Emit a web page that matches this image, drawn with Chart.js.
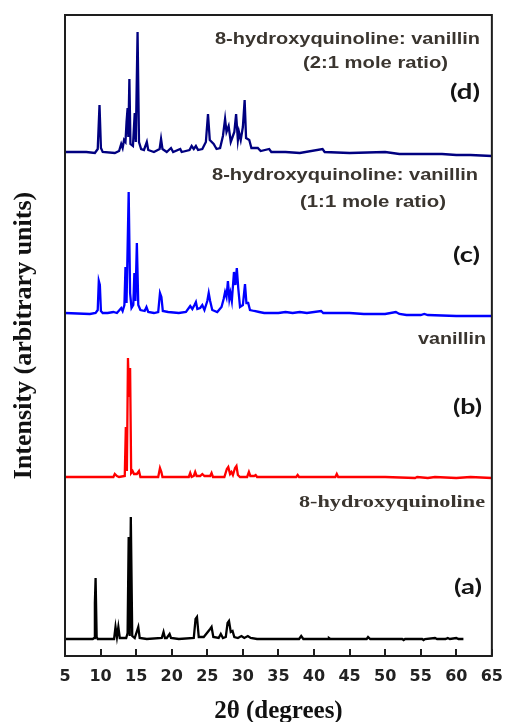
<!DOCTYPE html>
<html>
<head>
<meta charset="utf-8">
<script src="https://cdn.jsdelivr.net/npm/chart.js@4"></script>
<style>
  html, body { margin: 0; padding: 0; background: #fff; }
  #wrap { width: 514px; height: 722px; }
</style>
</head>
<body>
<div id="wrap"><canvas id="xrd" width="514" height="722"></canvas></div>
<script>
// 2theta (deg), intensity above each pattern's own baseline (a.u.)
const pointsA = [[5,0],[8.9,0],[9.1,1],[9.2,36],[9.3,61],[9.45,2],[9.6,0],[11.9,0],[12.1,12],[12.3,2],[12.5,12],[12.7,1],[13.6,1],[13.8,6],[13.95,102],[14.1,3],[14.25,122],[14.45,3],[14.8,1],[15.3,12],[15.5,1],[16.5,0],[18.6,1],[18.85,7],[19.05,1],[19.3,1],[19.7,5],[19.9,1],[21,0],[23.1,1],[23.35,20],[23.55,22],[23.8,2],[24.5,2],[25.4,10],[25.6,12],[25.85,2],[26.6,1],[26.9,5],[27.2,1],[27.6,2],[27.85,16],[28.05,18],[28.3,7],[28.55,8],[28.8,2],[29.3,1],[29.8,3],[30.2,1],[30.7,3],[31.1,1],[32,0],[37.9,0],[38.2,3],[38.5,0],[42,0],[42.1,1],[42.3,0],[47.4,0],[47.6,2],[47.9,0],[52.4,0],[52.6,-1],[52.8,0],[55.2,0],[55.4,-1],[55.6,0],[57,1],[57.3,0],[58.5,0],[58.8,1],[59.1,0],[60,1],[60.3,0],[61,0]];
const pointsB = [[5,0],[11.8,0],[12.0,3],[12.3,1],[12.6,0],[13.4,1],[13.55,50],[13.7,6],[13.85,119],[14.0,80],[14.15,109],[14.3,4],[14.5,6],[14.7,3],[15.1,3],[15.4,6],[15.6,0],[18.1,0],[18.35,9],[18.55,5],[18.7,0],[22.4,0],[22.6,4],[22.8,0],[23.1,1],[23.3,5],[23.5,1],[24.0,1],[24.3,3],[24.6,1],[25.4,1],[25.6,4],[25.8,0],[27.4,0],[27.75,8],[27.95,10],[28.2,3],[28.4,5],[28.6,2],[28.9,9],[29.1,11],[29.3,2],[29.6,0],[30.6,0],[30.85,5],[31.05,1],[31.6,1],[31.8,2],[32.0,0],[37.5,0],[37.7,2],[37.9,0],[43.0,0],[43.2,3],[43.4,0],[50,0],[54.2,-1],[54.5,0],[56,-1],[57,0],[60,-1],[62,0],[65,-1]];
const pointsC = [[5,0],[8.5,-1],[9.3,0],[9.6,3],[9.75,32],[9.9,28],[10.05,2],[10.3,0],[11,0],[11.8,1],[12.3,0],[12.9,5],[13.1,2],[13.35,8],[13.5,46],[13.65,10],[13.95,121],[14.15,20],[14.35,5],[14.6,8],[14.75,40],[14.9,12],[15.1,70],[15.3,8],[15.6,3],[16.2,2],[16.45,6],[16.7,1],[17.5,0],[18.1,1],[18.35,20],[18.55,16],[18.75,2],[19.5,1],[21,0],[22,1],[22.6,7],[22.9,4],[23.2,8],[23.4,11],[23.6,4],[24.0,5],[24.3,8],[24.6,3],[25.0,12],[25.2,20],[25.4,12],[25.7,3],[26.4,1],[27.0,6],[27.3,14],[27.5,21],[27.7,16],[27.9,32],[28.1,14],[28.25,20],[28.45,12],[28.75,41],[28.95,28],[29.15,45],[29.35,25],[29.6,6],[30.0,8],[30.3,29],[30.5,10],[30.75,10],[31.0,3],[31.6,2],[32.3,1],[33,0],[35,0],[36,1],[37,0],[38,1],[39,0],[41.0,2],[41.3,0],[45,0],[47,-1],[50,-1],[51.5,1],[52,-1],[53,-2],[55,-2],[55.5,-1],[56,-2],[60,-3],[62,-3],[65,-3]];
const pointsD = [[5,0],[8,0],[9.2,-1],[9.6,3],[9.85,47],[10.05,4],[10.3,0],[12,-1],[12.6,1],[12.9,8],[13.1,4],[13.3,12],[13.5,10],[13.65,30],[13.8,44],[13.9,15],[14.05,73],[14.2,8],[14.55,6],[14.8,39],[14.95,10],[15.2,120],[15.4,10],[15.7,3],[16.1,2],[16.5,10],[16.7,2],[17.5,0],[18.3,3],[18.5,13],[18.7,3],[19.3,0],[19.9,4],[20.2,0],[21.2,3],[21.4,0],[22.5,2],[22.8,6],[23.1,3],[23.4,6],[23.7,2],[24.3,3],[24.8,10],[25.1,38],[25.35,12],[25.9,8],[26.3,3],[26.8,4],[27.2,16],[27.5,33],[27.7,20],[28.0,26],[28.3,10],[28.5,14],[28.8,20],[29.05,38],[29.3,12],[29.45,20],[29.7,12],[30.0,25],[30.25,52],[30.45,14],[30.9,12],[31.2,4],[32.1,4],[32.5,1],[33.7,3],[34,0],[36,0],[38,-1],[41.2,3],[41.5,0],[45,-1],[50,0],[52,-2],[55,-2],[58,-2],[60,-3],[62,-3],[65,-4]];

// vertical stacking offset of each pattern (a.u.), order a, b, c, d
const offsets = [17, 179, 343, 504];
const xTicks = [5, 10, 15, 20, 25, 30, 35, 40, 45, 50, 55, 60, 65];

function shift(pts, off){
    return pts.map(p => [p[0], p[1] + off])
}

const labels = [
    // text, left, right, centre y, font, colour
    ['8-hydroxyquinoline: vanillin', 215, 480, 39, 'bold 17px "Liberation Sans"', '#3a352f'],
    ['(2:1 mole ratio)', 303, 448, 63, 'bold 17px "Liberation Sans"', '#3a352f'],
    ['(d)', 450, 480, 92, 'bold 21px Lato', '#151515'],
    ['8-hydroxyquinoline: vanillin', 212, 478, 175, 'bold 17px "Liberation Sans"', '#3a352f'],
    ['(1:1 mole ratio)', 300, 446, 202, 'bold 17px "Liberation Sans"', '#3a352f'],
    ['(c)', 453, 480, 255, 'bold 21px Lato', '#151515'],
    ['vanillin', 418, 486, 339, 'bold 17px "Liberation Sans"', '#3a352f'],
    ['(b)', 453, 482, 407, 'bold 21px Lato', '#151515'],
    ['8-hydroxyquinoline', 299, 485, 503, 'bold 17px "Liberation Serif"', '#3a352f'],
    ['(a)', 454, 482, 587, 'bold 21px Lato', '#151515']
]

const framePlugin = {
    id: 'frame',
    afterDatasetsDraw(chart){
        const ctx = chart.ctx
        const a = chart.chartArea
        const xs = chart.scales.x
        ctx.save()
        ctx.strokeStyle = '#1e1e1e'
        ctx.lineWidth = 2
        ctx.strokeRect(a.left, a.top, a.right - a.left, a.bottom - a.top)
        ctx.beginPath()
        xTicks.forEach(v => {
            const px = Math.round(xs.getPixelForValue(v))
            ctx.moveTo(px, a.bottom)
            ctx.lineTo(px, a.bottom - 7)
        })
        ctx.stroke()
        labels.forEach(l => {
            ctx.font = l[4]
            ctx.fillStyle = l[5]
            ctx.textBaseline = 'middle'
            ctx.textAlign = 'left'
            const w = ctx.measureText(l[0]).width
            const sx = (l[2] - l[1]) / w
            ctx.save()
            ctx.translate(l[1], l[3])
            ctx.scale(sx, 1)
            ctx.fillText(l[0], 0, 0)
            ctx.restore()
        })
        ctx.restore()
    }
}

document.addEventListener("DOMContentLoaded",(e)=>{

new Chart("xrd", {
    type: "line",
    data: {
        datasets: [
            {data: shift(pointsA, offsets[0]), borderColor: "#000000"},
            {data: shift(pointsB, offsets[1]), borderColor: "#ff0000"},
            {data: shift(pointsC, offsets[2]), borderColor: "#0000ff"},
            {data: shift(pointsD, offsets[3]), borderColor: "#000080"}
        ]
    },
    options: {
        responsive: false,
        animation: false,
        layout: {padding: {left: 0, right: 13, top: 15, bottom: 0}},
        elements: {
            line: {borderWidth: 2.3, tension: 0},
            point: {radius: 0}
        },
        plugins: {legend: {display: false}, tooltip: {enabled: false}},
        scales: {
            x: {
                type: "linear",
                min: 5, max: 65,
                afterFit: (s) => { s.height = 66 },
                afterBuildTicks: (s) => { s.ticks = xTicks.map(v => ({value: v})) },
                grid: {display: false, drawTicks: false},
                border: {display: false},
                ticks: {padding: 11, color: "#222", font: {family: "DejaVu Sans", weight: "bold", size: 16}, maxRotation: 0},
                title: {display: true, text: "2θ (degrees)", color: "#111", padding: 0,
                        font: {family: "Liberation Serif", weight: "bold", size: 25, lineHeight: 0.8}}
            },
            y: {
                min: 0, max: 641,
                afterFit: (s) => { s.width = 65 },
                grid: {display: false, drawTicks: false},
                border: {display: false},
                ticks: {display: false},
                title: {display: true, text: "Intensity (arbitrary units)", color: "#111", padding: {top: 11, bottom: 0},
                        font: {family: "Liberation Serif", weight: "bold", size: 26, lineHeight: 1}}
            }
        }
    },
    plugins: [framePlugin]
});

})
</script>
</body>
</html>
